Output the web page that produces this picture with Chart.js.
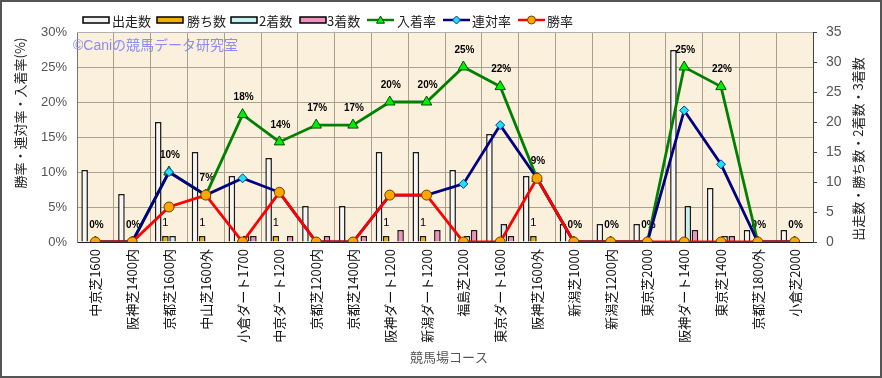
<!DOCTYPE html>
<html><head><meta charset="utf-8">
<script src="https://cdn.jsdelivr.net/npm/chart.js@4/dist/chart.umd.min.js"></script>
<style>html,body{margin:0;padding:0;background:#fff}#wrap{width:882px;height:378px}</style>
</head><body><div id="wrap"><canvas id="c" width="882" height="378"></canvas></div>
<script>
const categories = ["中京芝1600","阪神芝1400内","京都芝1600内","中山芝1600外","小倉ダート1700","中京ダート1200","京都芝1200内","京都芝1400内","阪神ダート1200","新潟ダート1200","福島芝1200","東京ダート1600","阪神芝1600外","新潟芝1000","新潟芝1200内","東京芝2000","阪神ダート1400","東京芝1400","京都芝1800外","小倉芝2000"];
const runs    = [12,8,20,15,11,14,6,6,15,15,12,18,11,3,3,3,32,9,2,2];
const wins    = [0,0,1,1,0,1,0,0,1,1,0,0,1,0,0,0,0,0,0,0];
const seconds = [0,0,1,0,1,0,0,0,0,0,1,3,0,0,0,0,6,1,0,0];
const thirds  = [0,0,0,0,1,1,1,1,2,2,2,1,0,0,0,0,2,1,0,0];
const placeRate    = [0,0,10,6.7,18.2,14.3,16.7,16.7,20,20,25,22.2,9.1,0,0,0,25,22.2,0,0];
const quinellaRate = [0,0,10,6.7,9.1,7.1,0,0,6.7,6.7,8.3,16.7,9.1,0,0,0,18.8,11.1,0,0];
const winRate      = [0,0,5,6.7,0,7.1,0,0,6.7,6.7,0,0,9.1,0,0,0,0,0,0,0];
const leftTicks = [0,5,10,15,20,25,30];
const rightTicks = [0,5,10,15,20,25,30,35];

const FONT = "'Liberation Sans','Noto Sans CJK JP',sans-serif";
const JFONT = "'Noto Sans CJK JP','Liberation Sans',sans-serif";

const legendItems = [
  {t:'出走数', type:'bar', c:'#f2f2f2', x:83, tx:112},
  {t:'勝ち数', type:'bar', c:'#f0b000', x:157, tx:187},
  {t:'2着数', type:'bar', c:'#c4f2f2', x:231, tx:259},
  {t:'3着数', type:'bar', c:'#f090c0', x:300, tx:327},
  {t:'入着率', type:'line', c:'#008000', m:'tri', mc:'#00ee00', x:367, tx:397},
  {t:'連対率', type:'line', c:'#000080', m:'dia', mc:'#22e0f0', x:443, tx:472},
  {t:'勝率', type:'line', c:'#ff0000', m:'cir', mc:'#ffa500', x:518, tx:547}
];

function marker(ctx, m, x, y, fill, r){
  ctx.save(); ctx.fillStyle=fill; ctx.lineWidth=1;
  ctx.beginPath();
  if(m==='tri'){ ctx.strokeStyle='#005000'; ctx.moveTo(x,y-r); ctx.lineTo(x+r,y+r*0.8); ctx.lineTo(x-r,y+r*0.8); ctx.closePath(); }
  else if(m==='dia'){ ctx.strokeStyle='#0030a0'; ctx.moveTo(x,y-r); ctx.lineTo(x+r,y); ctx.lineTo(x,y+r); ctx.lineTo(x-r,y); ctx.closePath(); }
  else { ctx.strokeStyle='#704000'; ctx.arc(x,y,r,0,Math.PI*2); }
  ctx.fill(); ctx.stroke(); ctx.restore();
}

const deco = {
  id:'deco',
  beforeDraw(chart){
    const {ctx, chartArea:a} = chart;
    ctx.save();
    ctx.fillStyle='#fff'; ctx.fillRect(0,0,chart.width,chart.height);
    ctx.fillStyle='#faf0dc'; ctx.fillRect(a.left,a.top,a.right-a.left,a.bottom-a.top);
    ctx.restore();
  },
  beforeDatasetsDraw(chart){
    const {ctx} = chart;
    ctx.save();
    ctx.font = "14px "+FONT; ctx.fillStyle='#8c8cf2'; ctx.textBaseline='middle'; ctx.textAlign='left';
    ctx.fillText('©Caniの競馬データ研究室', 73, 46);
    ctx.strokeStyle='#b0b0b0'; ctx.lineWidth=1;
    ctx.beginPath(); ctx.moveTo(chart.chartArea.left, chart.chartArea.top+0.5); ctx.lineTo(chart.chartArea.right, chart.chartArea.top+0.5); ctx.stroke();
    ctx.font = "bold 10px "+FONT; ctx.fillStyle='#000'; ctx.textAlign='center'; ctx.textBaseline='middle';
    const pm = chart.getDatasetMeta(4);
    pm.data.forEach((p,i)=>{ ctx.fillText(Math.round(placeRate[i])+'%', p.x+1, p.y-17); });
    const wm = chart.getDatasetMeta(1);
    ctx.font = "11px "+FONT;
    wm.data.forEach((b,i)=>{ if(wins[i]>0) ctx.fillText(String(wins[i]), b.x, b.y-13); });
    ctx.restore();
  },
  afterDraw(chart){
    const {ctx} = chart;
    ctx.save();
    ctx.font = "13px "+JFONT; ctx.textBaseline='middle'; ctx.textAlign='left';
    const ly = 20;
    legendItems.forEach(it=>{
      if(it.type==='bar'){
        ctx.fillStyle=it.c; ctx.fillRect(it.x, ly-3, 26, 6);
        ctx.strokeStyle='#000'; ctx.lineWidth=1.5; ctx.strokeRect(it.x, ly-3, 26, 6);
      } else {
        ctx.strokeStyle=it.c; ctx.lineWidth=2.5;
        ctx.beginPath(); ctx.moveTo(it.x, ly); ctx.lineTo(it.x+27, ly); ctx.stroke();
        marker(ctx, it.m, it.x+13.5, ly, it.mc, 4);
      }
      ctx.fillStyle='#222'; ctx.fillText(it.t, it.tx, ly+1);
    });
    ctx.fillStyle='#222'; ctx.font="13px "+JFONT; ctx.textAlign='center';
    ctx.save(); ctx.translate(20,113); ctx.rotate(-Math.PI/2); ctx.fillText('勝率・連対率・入着率(%)',0,0); ctx.restore();
    ctx.save(); ctx.translate(858,149); ctx.rotate(-Math.PI/2); ctx.fillText('出走数・勝ち数・2着数・3着数',0,0); ctx.restore();
    ctx.fillStyle='#555'; ctx.fillText('競馬場コース', 449, 357);
    ctx.strokeStyle='#555'; ctx.lineWidth=2; ctx.strokeRect(1,1,880,376);
    ctx.restore();
  }
};

const barCommon = {type:'bar', yAxisID:'y2', borderColor:'#1a1a1a', borderWidth:1.5, categoryPercentage:0.78, barPercentage:0.92, order:10};

new Chart(document.getElementById('c'), {
  data:{
    labels: categories,
    datasets:[
      Object.assign({label:'出走数', data:runs, backgroundColor:'#f6f6f6'}, barCommon),
      Object.assign({label:'勝ち数', data:wins, backgroundColor:'#f0b000'}, barCommon),
      Object.assign({label:'2着数', data:seconds, backgroundColor:'#c4f2f2'}, barCommon),
      Object.assign({label:'3着数', data:thirds, backgroundColor:'#f090c0'}, barCommon),
      {type:'line', label:'入着率', data:placeRate, yAxisID:'y', borderColor:'#008000', borderWidth:2.8, pointStyle:'triangle', pointRadius:6, pointBackgroundColor:'#00ee00', pointBorderColor:'#005000', pointBorderWidth:1, tension:0, order:3},
      {type:'line', label:'連対率', data:quinellaRate, yAxisID:'y', borderColor:'#000080', borderWidth:2.8, pointStyle:'rectRot', pointRadius:4.5, pointBackgroundColor:'#22e0f0', pointBorderColor:'#0040a0', pointBorderWidth:1, tension:0, order:2},
      {type:'line', label:'勝率', data:winRate, yAxisID:'y', borderColor:'#ff0000', borderWidth:2.8, pointStyle:'circle', pointRadius:5, pointBackgroundColor:'#ffa500', pointBorderColor:'#704000', pointBorderWidth:1, tension:0, order:1}
    ]
  },
  options:{
    responsive:false, animation:false,
    layout:{padding:{top:32,left:0,right:0,bottom:0}},
    plugins:{legend:{display:false}, tooltip:{enabled:false}},
    scales:{
      x:{
        offset:true,
        grid:{offset:true, color:'#a8a090', borderDash:[1,2], drawTicks:false, tickLength:0},
        border:{color:'#222', width:1},
        ticks:{autoSkip:false, minRotation:90, maxRotation:90, padding:7, color:'#111', font:{size:13, family:JFONT}},
        afterFit(s){ s.height = 378-242; }
      },
      y:{
        position:'left', min:0, max:30,
        afterBuildTicks(s){ s.ticks = leftTicks.map(v=>({value:v})); },
        grid:{color:'#a8a090', borderDash:[1,2], drawTicks:false},
        border:{color:'#777', width:1},
        ticks:{padding:10, color:'#555', font:{size:13, family:FONT}, callback:v=>v+'%'},
        afterFit(s){ s.width = 77; }
      },
      y2:{
        position:'right', min:0, max:35,
        afterBuildTicks(s){ s.ticks = rightTicks.map(v=>({value:v})); },
        grid:{drawOnChartArea:false, drawTicks:true, tickLength:4, color:'#444'},
        border:{color:'#444', width:1},
        ticks:{padding:9, color:'#555', font:{size:14, family:FONT}},
        afterFit(s){ s.width = 882-813; }
      }
    }
  },
  plugins:[deco]
});
</script></body></html>
